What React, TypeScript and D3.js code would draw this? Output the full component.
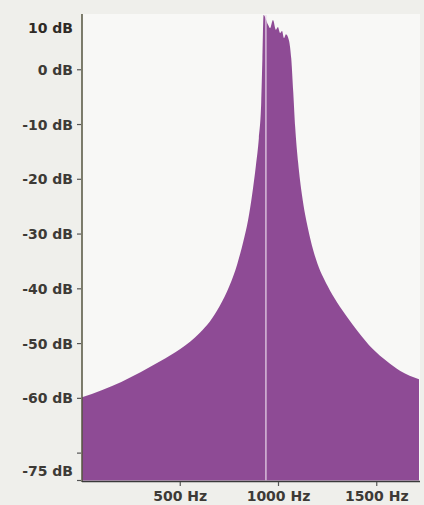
import React from "react";
import * as d3 from "d3";

const freqs = [0, 100, 200, 300, 400, 500, 600, 650, 700, 750, 790, 820, 845, 865, 885, 900, 912, 918, 924, 947, 957, 972, 987, 997, 1008, 1018, 1028, 1038, 1053, 1065, 1075, 1085, 1100, 1120, 1150, 1190, 1250, 1300, 1350, 1400, 1480, 1550, 1620, 1715];
const levels = [-59.8, -58.5, -57.0, -55.2, -53.2, -51.0, -48.0, -46.0, -43.2, -39.5, -35.5, -31.5, -27.5, -23.0, -17.5, -12.5, -6.0, 2.0, 10.0, 8.2, 7.6, 9.1, 7.3, 7.8, 6.7, 7.1, 5.8, 6.5, 5.4, 2.0, -4.0, -10.5, -17.0, -23.0, -29.0, -34.5, -39.5, -42.6, -45.2, -47.6, -51.0, -53.2, -55.0, -56.5];

const yTicks = [0, -10, -20, -30, -40, -50, -60, -70, -75];
const yLabels = ["0 dB", "-10 dB", "-20 dB", "-30 dB", "-40 dB", "-50 dB", "-60 dB", "", "-75 dB"];
const xTicks = [500, 1000, 1500];
const xLabels = ["500 Hz", "1000 Hz", "1500 Hz"];
const topLabel = "10 dB";
const markerFreq = 936;

export default function App() {
  const W = 424, H = 505;
  const x = d3.scaleLinear().domain([0, 1715]).range([82, 419]);
  const y = d3.scaleLinear().domain([-75, 10]).range([480.5, 15]);
  const data = freqs.map((f, i) => ({ f, v: levels[i] }));
  const area = d3
    .area<{ f: number; v: number }>()
    .x((d) => x(d.f))
    .y0(y(-75))
    .y1((d) => y(d.v))
    .curve(d3.curveMonotoneX);
  const font = "'DejaVu Sans', sans-serif";
  return (
    <svg width={W} height={H} style={{ position: "absolute", left: 0, top: 0 }}>
      <rect x={0} y={0} width={W} height={H} fill="#efefeb" />
      <rect x={82} y={14} width={338} height={468} fill="#f8f8f6" />
      <path d={area(data) || ""} fill="#8e4b95" />
      <line x1={x(markerFreq)} x2={x(markerFreq)} y1={y(10)} y2={y(-75)} stroke="#ead9ec" strokeWidth={1.2} />
      <line x1={82} x2={82} y1={14} y2={482} stroke="#55553f" strokeWidth={1.5} />
      <line x1={82} x2={420} y1={481.5} y2={481.5} stroke="#3a3a3a" strokeWidth={1.5} />
      {yTicks.map((t, i) => (
        <g key={"y" + t}>
          <line x1={77} x2={81} y1={y(t)} y2={y(t)} stroke="#555" strokeWidth={1.2} />
          {yLabels[i] && (
            <text
              x={73}
              y={t === -75 ? y(t) - 10 : y(t)}
              dy="0.36em"
              textAnchor="end"
              fontFamily={font}
              fontWeight="bold"
              fontSize={14}
              fill="#3d3a36"
            >
              {yLabels[i]}
            </text>
          )}
        </g>
      ))}
      <text x={73} y={y(10) + 13} dy="0.36em" textAnchor="end" fontFamily={font} fontWeight="bold" fontSize={14} fill="#2f2a26">
        {topLabel}
      </text>
      {xTicks.map((t, i) => (
        <g key={"x" + t}>
          <line x1={x(t)} x2={x(t)} y1={482} y2={486} stroke="#555" strokeWidth={1.2} />
          <text x={x(t)} y={496} dy="0.36em" textAnchor="middle" fontFamily={font} fontWeight="bold" fontSize={14} fill="#3d3a36">
            {xLabels[i]}
          </text>
        </g>
      ))}
    </svg>
  );
}
